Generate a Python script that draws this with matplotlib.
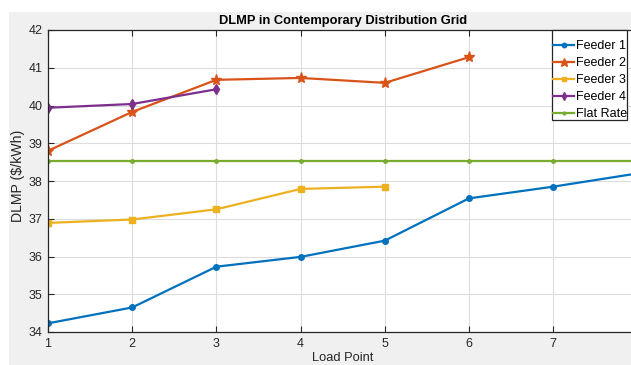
import matplotlib
matplotlib.use("Agg")
import matplotlib.pyplot as plt
from matplotlib.patches import Rectangle

plt.rcParams['font.family'] = ['Liberation Sans', 'DejaVu Sans']

load_points = [1, 2, 3, 4, 5, 6, 7, 8]
feeder1 = [34.23, 34.65, 35.73, 35.99, 36.42, 37.54, 37.85, 38.20]
feeder2 = [38.80, 39.83, 40.68, 40.73, 40.60, 41.28]
feeder3 = [36.89, 36.98, 37.25, 37.79, 37.85]
feeder4 = [39.94, 40.04, 40.43]
flat_rate = [38.52] * 8
xticks = [1, 2, 3, 4, 5, 6, 7]
yticks = [34, 35, 36, 37, 38, 39, 40, 41, 42]

W, H = 631, 365
fig = plt.figure(figsize=(W / 100, H / 100), dpi=100, facecolor='white')
fig.add_artist(Rectangle((9 / W, 0), 1, (H - 12) / H, transform=fig.transFigure,
                         facecolor='#f0f0f0', edgecolor='none', zorder=-10))

left, right, top, bottom = 48, 637.4, 30, 332
ax = fig.add_axes([left / W, (H - bottom) / H, (right - left) / W, (bottom - top) / H])
ax.set_facecolor('white')

c1, c2, c3, c4, c5 = '#0072BD', '#D95319', '#EDB120', '#7E2F8E', '#77AC30'
lw = 1.6
ax.plot(load_points[:len(feeder1)], feeder1, color=c1, lw=lw, marker='o', ms=4, label='Feeder 1')
ax.plot(load_points[:len(feeder2)], feeder2, color=c2, lw=lw, marker='*', ms=8, label='Feeder 2')
ax.plot(load_points[:len(feeder3)], feeder3, color=c3, lw=lw, marker='s', ms=4, label='Feeder 3')
ax.plot(load_points[:len(feeder4)], feeder4, color=c4, lw=lw, marker='d', ms=5, label='Feeder 4')
ax.plot(load_points[:len(flat_rate)], flat_rate, color=c5, lw=lw, marker='.', ms=5, label='Flat Rate')

ax.set_xlim(1, 8)
ax.set_ylim(34, 42)
ax.set_xticks(xticks)
ax.set_yticks(yticks)
ax.grid(True, color='#dcdcdc', lw=0.8)
ax.set_axisbelow(True)
ax.tick_params(direction='in', top=True, right=True, labelsize=9, colors='#262626', length=4,
               pad=4)
for s in ax.spines.values():
    s.set_color('#262626')
    s.set_linewidth(0.9)

ax.set_title('DLMP in Contemporary Distribution Grid', fontsize=9.3, fontweight='bold', pad=4)
ax.set_xlabel('Load Point', fontsize=9.3, color='#262626', labelpad=2)
ax.set_ylabel('DLMP (\\$/kWh)', fontsize=10.2, color='#262626')
ax.yaxis.set_label_coords((25 - left) / (right - left), (bottom - 176) / (bottom - top))

# legend frame drawn in pixel coordinates, legend content without its own frame
lx0, ly0, lx1, ly1 = 552, 30, 627, 120
fig.add_artist(Rectangle((lx0 / W, (H - ly1) / H), (lx1 - lx0) / W, (ly1 - ly0) / H,
                         transform=fig.transFigure, facecolor='white',
                         edgecolor='#262626', lw=0.9, zorder=5))
handles, labels = ax.get_legend_handles_labels()
leg = fig.legend(handles, labels, loc='upper left',
                 bbox_to_anchor=((lx0 + 1) / W, (H - ly0 - 10) / H),
                 bbox_transform=fig.transFigure, borderaxespad=0, borderpad=0,
                 fontsize=9, frameon=False, handlelength=1.7,
                 handletextpad=0.15, labelspacing=0.4, markerscale=0.8)
leg.set_zorder(6)

fig.savefig('out.png', dpi=100, facecolor='white')
